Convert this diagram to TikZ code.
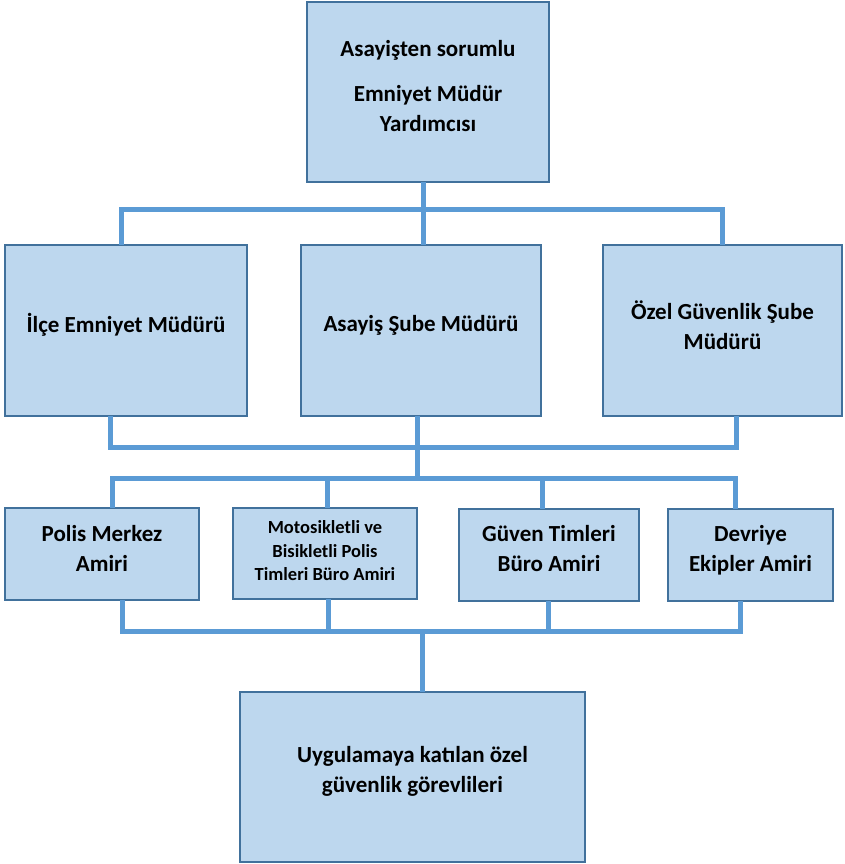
\documentclass[tikz,border=0pt]{standalone}
\usepackage{fontspec}
\setmainfont{Carlito}
\begin{document}
\begin{tikzpicture}[x=1pt,y=-1pt,
  box/.style={draw=boxline,fill=boxfill,line width=1.5pt,inner sep=0pt,outer sep=0pt},
  lbl/.style={align=center,font=\fontsize{23}{30}\selectfont\bfseries,text=black},
  small/.style={align=center,font=\fontsize{18.5}{23.5}\selectfont\bfseries,text=black},
  conn/.style={draw=connblue,line width=5pt,line cap=butt,line join=miter}]
\definecolor{boxfill}{HTML}{BDD7EE}
\definecolor{boxline}{HTML}{41719C}
\definecolor{connblue}{HTML}{5B9BD5}
\useasboundingbox (0,0) rectangle (844,864);

% bus coordinates
\coordinate (b1l) at (121,209);
\coordinate (b1m) at (423,209);
\coordinate (b1r) at (722,209);
\coordinate (b2l) at (110,447);
\coordinate (b2m) at (417,447);
\coordinate (b2r) at (736,447);
\coordinate (b3l) at (112,478);
\coordinate (b3m) at (417,478);
\coordinate (b3b) at (327,478);
\coordinate (b3c) at (542,478);
\coordinate (b3r) at (735,478);
\coordinate (b4l) at (122,631);
\coordinate (b4b) at (328,631);
\coordinate (b4m) at (422,631);
\coordinate (b4c) at (548,631);
\coordinate (b4r) at (740,631);

% boxes
\node[box,minimum width=242,minimum height=180] (top) at (428,92) {};
\node[box,minimum width=242,minimum height=171] (l2a) at (126,330.5) {};
\node[box,minimum width=240,minimum height=171] (l2b) at (421,330.5) {};
\node[box,minimum width=239,minimum height=171] (l2c) at (722.5,330.5) {};
\node[box,minimum width=194,minimum height=92] (l3a) at (102,554) {};
\node[box,minimum width=184,minimum height=91] (l3b) at (325,553.5) {};
\node[box,minimum width=180,minimum height=92] (l3c) at (549,555) {};
\node[box,minimum width=165,minimum height=92] (l3d) at (750.5,555) {};
\node[box,minimum width=345,minimum height=170] (bot) at (412.5,777) {};

% texts
\node[lbl] (topt) at (428,86) {Asayişten sorumlu\\[15pt]Emniyet Müdür\\Yardımcısı};
\node[lbl] (l2at) at (126,325) {İlçe Emniyet Müdürü};
\node[lbl] (l2bt) at (421,325) {Asayiş Şube Müdürü};
\node[lbl] (l2ct) at (722.5,325) {Özel Güvenlik Şube\\Müdürü};
\node[lbl] (l3at) at (102,548) {Polis Merkez\\Amiri};
\node[small] (l3bt) at (325,551) {Motosikletli ve\\Bisikletli Polis\\Timleri Büro Amiri};
\node[lbl] (l3ct) at (549,549) {Güven Timleri\\Büro Amiri};
\node[lbl] (l3dt) at (750.5,550) {Devriye\\Ekipler Amiri};
\node[lbl] (bott) at (412.5,771) {Uygulamaya katılan özel\\güvenlik görevlileri};

% connectors
\draw[conn] (top.south -| b1m) -- (l2b.north -| b1m);
\draw[conn] (l2a.north -| b1l) -- (b1l) -- (b1r) -- (l2c.north -| b1r);
\draw[conn] (l2a.south -| b2l) -- (b2l) -- (b2r) -- (l2c.south -| b2r);
\draw[conn] (l2b.south -| b2m) -- (b3m);
\draw[conn] (l3a.north -| b3l) -- (b3l) -- (b3r) -- (l3d.north -| b3r);
\draw[conn] (b3b) -- (l3b.north -| b3b);
\draw[conn] (b3c) -- (l3c.north -| b3c);
\draw[conn] (l3a.south -| b4l) -- (b4l) -- (b4r) -- (l3d.south -| b4r);
\draw[conn] (l3b.south -| b4b) -- (b4b);
\draw[conn] (l3c.south -| b4c) -- (b4c);
\draw[conn] (b4m) -- (bot.north -| b4m);
\end{tikzpicture}
\end{document}
